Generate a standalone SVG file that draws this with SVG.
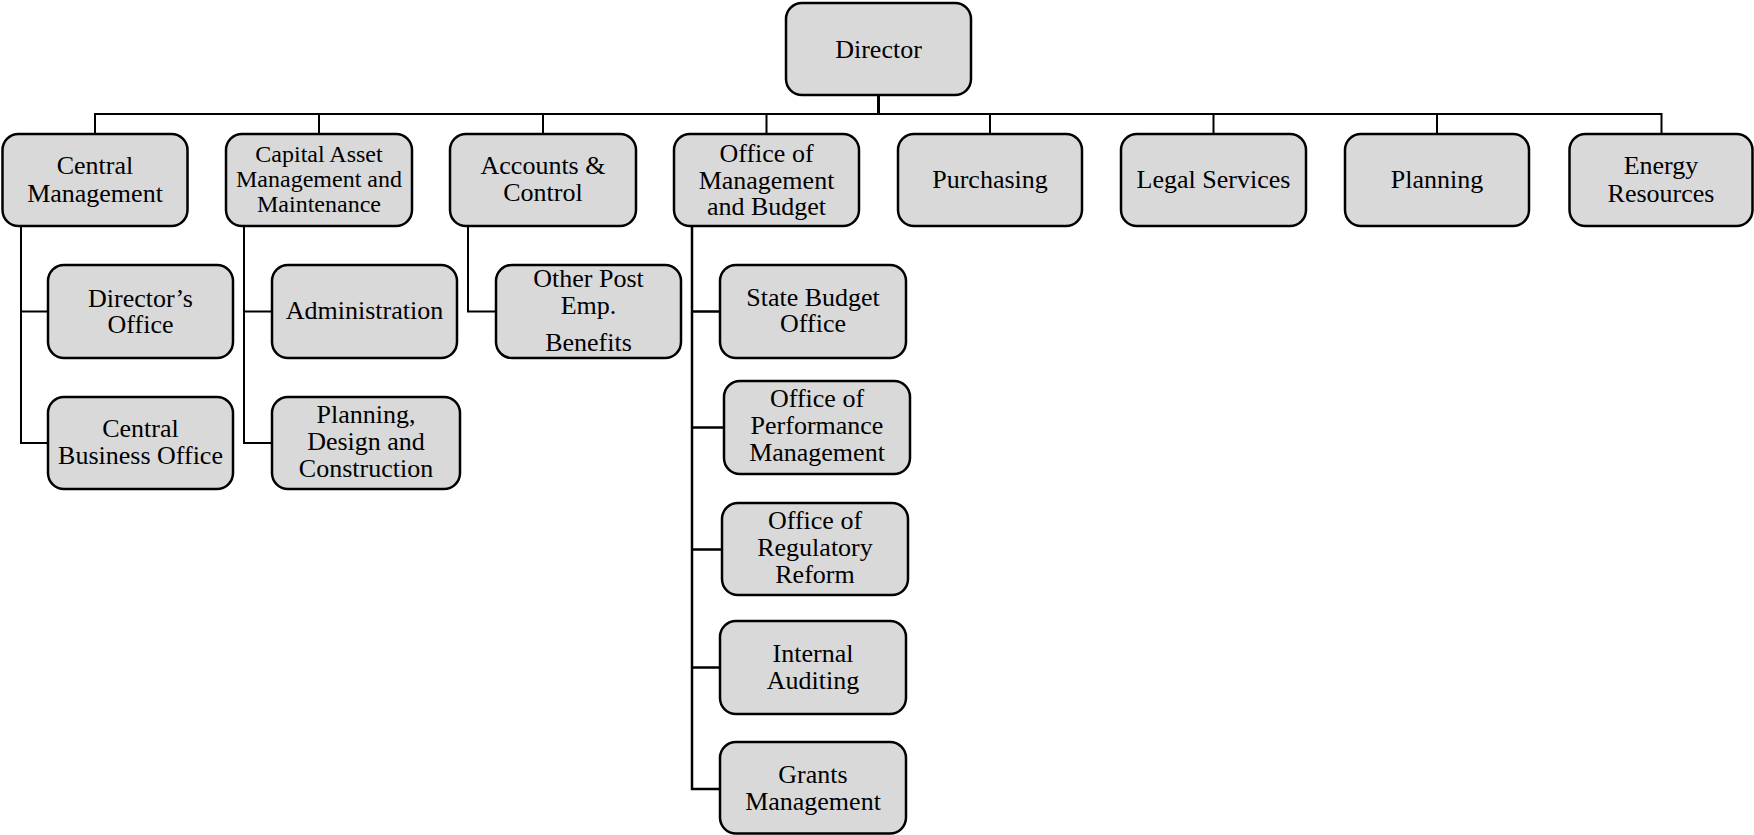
<svg xmlns="http://www.w3.org/2000/svg" width="1754" height="835" viewBox="0 0 1754 835">
<style>
.box{fill:#d9d9d9;stroke:#000;stroke-width:2.5}
.t{font-family:"Liberation Serif","Times New Roman",serif;font-size:26px;fill:#000;text-anchor:middle}
.s{font-size:24px}
.ln{fill:none;stroke:#000;stroke-width:2}
</style>
<rect width="1754" height="835" fill="#fff"/>
<g id="connectors">
<path class="ln" d="M95,134V114H1661.5V134M319,114V134M543,114V134M766.5,114V134M990,114V134M1213.5,114V134M1437,114V134"/>
<path class="ln" d="M878.5,95V114" style="stroke-width:3"/>
<path class="ln" d="M21,226V443H48M21,311.5H48"/>
<path class="ln" d="M244,226V443H272M244,311.5H272"/>
<path class="ln" d="M468,226V311.5H496"/>
<path class="ln" d="M692,226V789H720M692,311.5H720M692,427.5H724M692,549.5H722M692,667.5H720" style="stroke-width:2.5"/>
</g>
<g id="director"><rect class="box" x="786" y="3" width="185" height="92" rx="16"/><text class="t" x="878.5" y="58">Director</text></g>
<g id="central-management"><rect class="box" x="2.5" y="134" width="185" height="92" rx="16"/><text class="t" x="95" y="174">Central</text><text class="t" x="95" y="202">Management</text></g>
<g id="capital-asset"><rect class="box" x="226" y="134" width="186" height="92" rx="16"/><text class="t s" x="319" y="162">Capital Asset</text><text class="t s" x="319" y="187">Management and</text><text class="t s" x="319" y="212">Maintenance</text></g>
<g id="accounts-control"><rect class="box" x="450" y="134" width="186" height="92" rx="16"/><text class="t" x="543" y="174">Accounts &amp;</text><text class="t" x="543" y="201">Control</text></g>
<g id="omb"><rect class="box" x="674" y="134" width="185" height="92" rx="16"/><text class="t" x="766.5" y="162">Office of</text><text class="t" x="766.5" y="189">Management</text><text class="t" x="766.5" y="215">and Budget</text></g>
<g id="purchasing"><rect class="box" x="898" y="134" width="184" height="92" rx="16"/><text class="t" x="990" y="188">Purchasing</text></g>
<g id="legal-services"><rect class="box" x="1121" y="134" width="185" height="92" rx="16"/><text class="t" x="1213.5" y="188">Legal Services</text></g>
<g id="planning"><rect class="box" x="1345" y="134" width="184" height="92" rx="16"/><text class="t" x="1437" y="188">Planning</text></g>
<g id="energy-resources"><rect class="box" x="1569.5" y="134" width="183" height="92" rx="16"/><text class="t" x="1661" y="173.5">Energy</text><text class="t" x="1661" y="202">Resources</text></g>
<g id="directors-office"><rect class="box" x="48" y="265" width="185" height="93" rx="16"/><text class="t" x="140.5" y="306.5">Director’s</text><text class="t" x="140.5" y="332.5">Office</text></g>
<g id="central-business-office"><rect class="box" x="48" y="397" width="185" height="92" rx="16"/><text class="t" x="140.5" y="437">Central</text><text class="t" x="140.5" y="464">Business Office</text></g>
<g id="administration"><rect class="box" x="272" y="265" width="185" height="93" rx="16"/><text class="t" x="364.5" y="319">Administration</text></g>
<g id="planning-design"><rect class="box" x="272" y="397" width="188" height="92" rx="16"/><text class="t" x="366" y="423">Planning,</text><text class="t" x="366" y="450">Design and</text><text class="t" x="366" y="476.5">Construction</text></g>
<g id="other-post-emp"><rect class="box" x="496" y="265" width="185" height="93" rx="16"/><text class="t" x="588.5" y="287">Other Post</text><text class="t" x="588.5" y="314">Emp.</text><text class="t" x="588.5" y="350.5">Benefits</text></g>
<g id="state-budget"><rect class="box" x="720" y="265" width="186" height="93" rx="16"/><text class="t" x="813" y="306">State Budget</text><text class="t" x="813" y="332">Office</text></g>
<g id="performance"><rect class="box" x="724" y="381" width="186" height="93" rx="16"/><text class="t" x="817" y="407">Office of</text><text class="t" x="817" y="434">Performance</text><text class="t" x="817" y="460.5">Management</text></g>
<g id="regulatory"><rect class="box" x="722" y="503" width="186" height="92" rx="16"/><text class="t" x="815" y="528.5">Office of</text><text class="t" x="815" y="556">Regulatory</text><text class="t" x="815" y="583">Reform</text></g>
<g id="internal-auditing"><rect class="box" x="720" y="621" width="186" height="93" rx="16"/><text class="t" x="813" y="662">Internal</text><text class="t" x="813" y="688.5">Auditing</text></g>
<g id="grants"><rect class="box" x="720" y="742" width="186" height="91.5" rx="16"/><text class="t" x="813" y="783">Grants</text><text class="t" x="813" y="810">Management</text></g>
</svg>
